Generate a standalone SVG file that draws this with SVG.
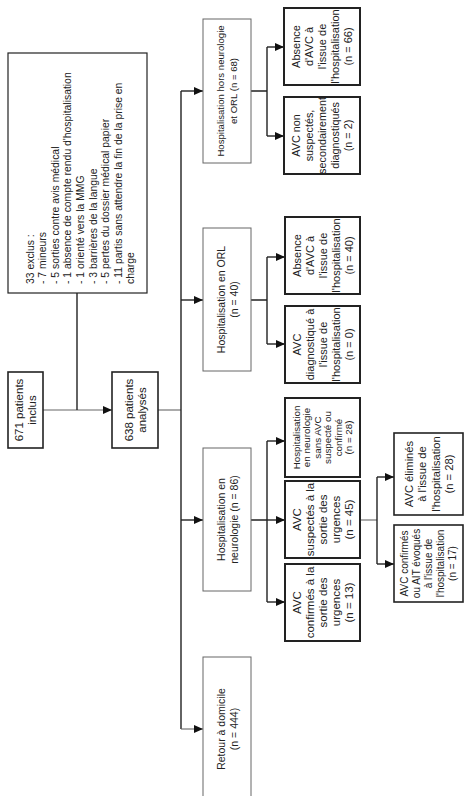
<svg xmlns="http://www.w3.org/2000/svg" width="475" height="796" viewBox="0 0 475 796">
<defs>
<marker id="arr" markerWidth="9" markerHeight="8" refX="9" refY="4" orient="auto" markerUnits="userSpaceOnUse">
<path d="M0,0 L9,4 L0,8 Z" fill="#111"/>
</marker>
<style>
text{font-family:"Liberation Sans",Arial,sans-serif;fill:#222;text-anchor:middle}
.b1{fill:#fff;stroke:#222;stroke-width:1.6}
.b2{fill:#fff;stroke:#666;stroke-width:1}
.b3{fill:#fff;stroke:#222;stroke-width:2}
.bx{fill:#fff;stroke:#222;stroke-width:1.2}
.c{fill:none;stroke:#222;stroke-width:1.4}
.g{fill:none;stroke:#666;stroke-width:1.1}
.a{marker-end:url(#arr)}
.ex text{text-anchor:start;font-size:10.4px}
</style>
</defs>

<g id="connectors">
<path class="g a" d="M43,410 H112"/>
<path class="c" d="M77,293 V410"/>
<path class="g" d="M158,410 H181"/>
<path class="c" d="M181,91 V729"/>
<path class="c a" d="M181,91 H203"/>
<path class="c a" d="M181,300 H203"/>
<path class="c a" d="M181,520 H203"/>
<path class="g a" d="M181,729 H203"/>
<path class="c" d="M251,91 H267 M267,47 V136"/>
<path class="c a" d="M267,47 H284"/>
<path class="c a" d="M267,136 H284"/>
<path class="c" d="M251,300 H267 M267,257 V344"/>
<path class="c a" d="M267,257 H285"/>
<path class="c a" d="M267,344 H285"/>
<path class="c" d="M251,520 H267 M267,441 V602"/>
<path class="c a" d="M267,441 H285"/>
<path class="c a" d="M267,520 H285"/>
<path class="c a" d="M267,602 H285"/>
<path class="g" d="M360,520 H377"/>
<path class="c" d="M377,477 V564"/>
<path class="c a" d="M377,477 H394"/>
<path class="c a" d="M377,564 H394"/>
</g>

<g id="n671">
<rect class="b1" x="8" y="372" width="35" height="76"/>
<g transform="translate(25.5,410) rotate(-90)" font-size="11.5">
<text y="-2.5">671 patients</text><text y="10.5">inclus</text>
</g>
</g>

<g id="n638">
<rect class="b1" x="112" y="372" width="46" height="76"/>
<g transform="translate(135,410) rotate(-90)" font-size="11.5">
<text y="-2.5">638 patients</text><text y="10.5">analysés</text>
</g>
</g>

<g id="exclus" class="ex">
<rect class="bx" x="8" y="53" width="139" height="240"/>
<g transform="translate(77.5,173) rotate(-90)">
<text x="-111" y="-44">33 exclus :</text>
<text x="-111" y="-31.4">- 7 mineurs</text>
<text x="-111" y="-18.8">- 5 sorties contre avis médical</text>
<text x="-111" y="-6.2">- 1 absence de compte rendu d'hospitalisation</text>
<text x="-111" y="6.4">- 1 orienté vers la MMG</text>
<text x="-111" y="19">- 3 barrières de la langue</text>
<text x="-111" y="31.6">- 5 pertes du dossier médical papier</text>
<text x="-111" y="44.2">- 11 partis sans attendre la fin de la prise en</text>
<text x="-111" y="56.8">charge</text>
</g>
</g>

<g id="hors">
<rect class="b2" x="203" y="19" width="48" height="144"/>
<g transform="translate(227,91) rotate(-90)" font-size="9.6">
<text y="-3">Hospitalisation hors neurologie</text><text y="10">et ORL  (n = 68)</text>
</g>
</g>

<g id="orl">
<rect class="b2" x="203" y="228" width="48" height="143"/>
<g transform="translate(227,299.5) rotate(-90)" font-size="10.5">
<text y="-2.5">Hospitalisation en ORL</text><text y="10.5">(n = 40)</text>
</g>
</g>

<g id="neuro">
<rect class="b2" x="203" y="448" width="48" height="143"/>
<g transform="translate(227,519.5) rotate(-90)" font-size="10.5">
<text y="-2.5">Hospitalisation en</text><text y="10.5">neurologie  (n = 86)</text>
</g>
</g>

<g id="retour">
<rect class="b2" x="203" y="657" width="48" height="144"/>
<g transform="translate(227,729) rotate(-90)" font-size="10.5">
<text y="-2.5">Retour à domicile</text><text y="10.5">(n = 444)</text>
</g>
</g>

<g id="hors-absence">
<rect class="b3" x="284" y="8" width="76" height="77"/>
<g transform="translate(322,46.5) rotate(-90)" font-size="11">
<text y="-22">Absence</text><text y="-9">d'AVC à</text><text y="4">l'issue de</text><text y="17">l'hospitalisation</text><text y="30">(n = 66)</text>
</g>
</g>

<g id="hors-avc">
<rect class="b3" x="284" y="97" width="76" height="77"/>
<g transform="translate(322,135.5) rotate(-90)" font-size="10.8">
<text y="-22">AVC non</text><text y="-9">suspectés,</text><text y="4">secondairement</text><text y="17">diagnostiqués</text><text y="30">(n = 2)</text>
</g>
</g>

<g id="orl-absence">
<rect class="b3" x="285" y="217" width="75" height="77"/>
<g transform="translate(322.5,255.5) rotate(-90)" font-size="11">
<text y="-22">Absence</text><text y="-9">d'AVC à</text><text y="4">l'issue de</text><text y="17">l'hospitalisation</text><text y="30">(n = 40)</text>
</g>
</g>

<g id="orl-avc">
<rect class="b3" x="285" y="306" width="75" height="77"/>
<g transform="translate(322.5,344.5) rotate(-90)" font-size="11">
<text y="-22">AVC</text><text y="-9">diagnostiqué à</text><text y="4">l'issue de</text><text y="17">l'hospitalisation</text><text y="30">(n = 0)</text>
</g>
</g>

<g id="neuro-sans">
<rect class="b3" x="285" y="398" width="75" height="79"/>
<g transform="translate(322.5,437.5) rotate(-90)" font-size="9.8">
<text y="-23">Hospitalisation</text><text y="-12.5">en neurologie</text><text y="-2">sans AVC</text><text y="8.5">suspecté ou</text><text y="19">confirmé</text><text y="29.5">(n = 28)</text>
</g>
</g>

<g id="neuro-suspectes">
<rect class="b3" x="285" y="481" width="75" height="77"/>
<g transform="translate(322.5,519.5) rotate(-90)" font-size="11.5">
<text y="-22">AVC</text><text y="-9">suspectés à la</text><text y="4">sortie des</text><text y="17">urgences</text><text y="30">(n = 45)</text>
</g>
</g>

<g id="neuro-confirmes">
<rect class="b3" x="285" y="564" width="75" height="77"/>
<g transform="translate(322.5,602.5) rotate(-90)" font-size="11.5">
<text y="-22">AVC</text><text y="-9">confirmés à la</text><text y="4">sortie des</text><text y="17">urgences</text><text y="30">(n = 13)</text>
</g>
</g>

<g id="elimines">
<rect class="b1" x="394" y="433" width="69" height="82"/>
<g transform="translate(428.5,474) rotate(-90)" font-size="11.2">
<text y="-16">AVC éliminés</text><text y="-2.5">à l'issue de</text><text y="11">l'hospitalisation</text><text y="24.5">(n = 28)</text>
</g>
</g>

<g id="ait">
<rect class="b1" x="394" y="525" width="69" height="77"/>
<g transform="translate(428.5,563.5) rotate(-90)" font-size="10">
<text y="-20.5">AVC confirmés</text><text y="-8.5">ou AIT évoqués</text><text y="3.5">à l'issue de</text><text y="15.5">l'hospitalisation</text><text y="27.5">(n = 17)</text>
</g>
</g>
</svg>
